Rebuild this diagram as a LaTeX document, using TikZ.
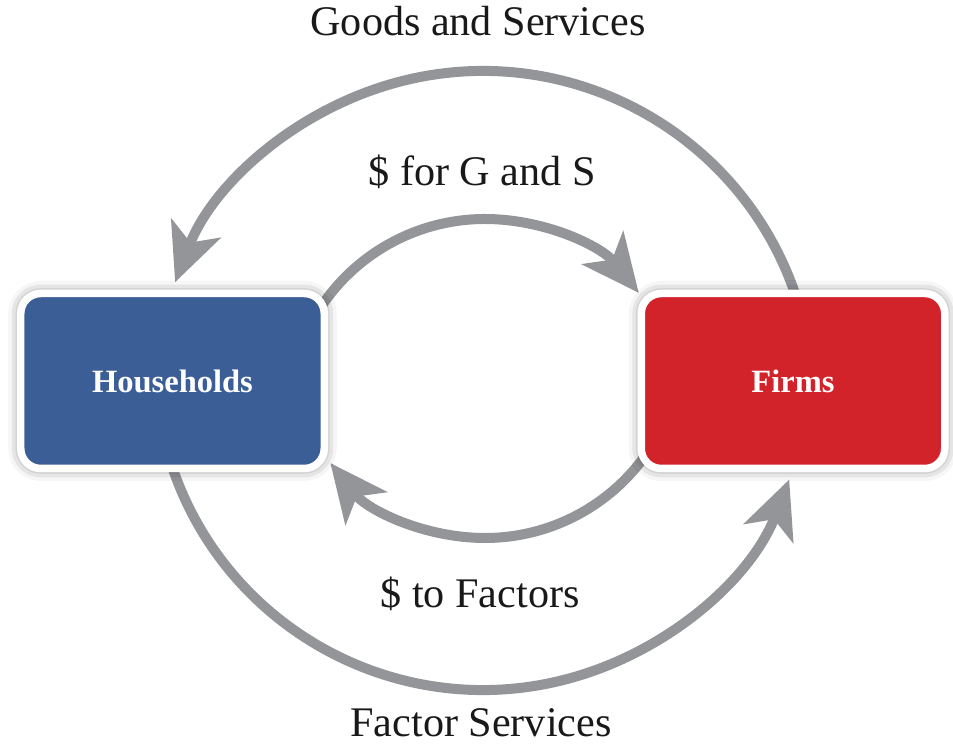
\documentclass[tikz,border=0pt]{standalone}
\usepackage{fontspec}
\setmainfont{Liberation Serif}
\usetikzlibrary{arrows.meta,shadows.blur}
% center x / center y / radius / start / end / name
\def\flows{9.66/6.94/6.6/15/158.9/goods, 9.66/7.72/6.56/195/339/factors, 9.70/6.64/3.94/150/38.7/spend, 9.70/8.14/3.94/-30/-141.7/income}
\definecolor{flow gray}{HTML}{939598}
\definecolor{house blue}{HTML}{3B5E96}
\definecolor{firm red}{HTML}{D2222A}
\tikzset{
  sector/.style={rectangle, rounded corners=0.4cm, draw=white, line width=0.15cm,
    minimum width=6.07cm, minimum height=3.5cm, text=white,
    font=\fontsize{18.5}{22}\selectfont\bfseries,
    blur shadow={shadow xshift=0pt, shadow yshift=0pt, shadow blur radius=0.25cm, shadow opacity=55}},
  flow/.style={draw=flow gray, line width=0.2cm, -{Stealth[length=1.15cm, width=1.05cm, inset=0.3cm]}}
  }
\tikzstyle{flowtext} = [font=\fontsize{24}{28}\selectfont, text=black!90, anchor=base]

\begin{document}
\begin{tikzpicture}
  \useasboundingbox (0,0) rectangle (19.06,14.96);

  % The circular flows, drawn first so the sectors cover their ends
  \foreach \cx/\cy/\rad/\from/\upto/\name in \flows {
    \path (\cx,\cy) ++(\from:\rad) coordinate (\name-);
    \draw[flow] (\name-) arc[start angle=\from, end angle=\upto, radius=\rad];
  }

  % The two sectors
  \node[sector, fill=house blue] (households) at (3.45,7.34) {Households};
  \node[sector, fill=firm red] (firms) at (15.86,7.34) {Firms};

  % What flows where
  \node[flowtext] (goods) at (9.56,14.24) {Goods and Services};
  \node[flowtext] (spend) at (9.64,11.24) {\$ for G and S};
  \node[flowtext] (income) at (9.60,2.80) {\$ to Factors};
  \node[flowtext] (factors) at (9.62,0.22) {Factor Services};
\end{tikzpicture}
\end{document}
